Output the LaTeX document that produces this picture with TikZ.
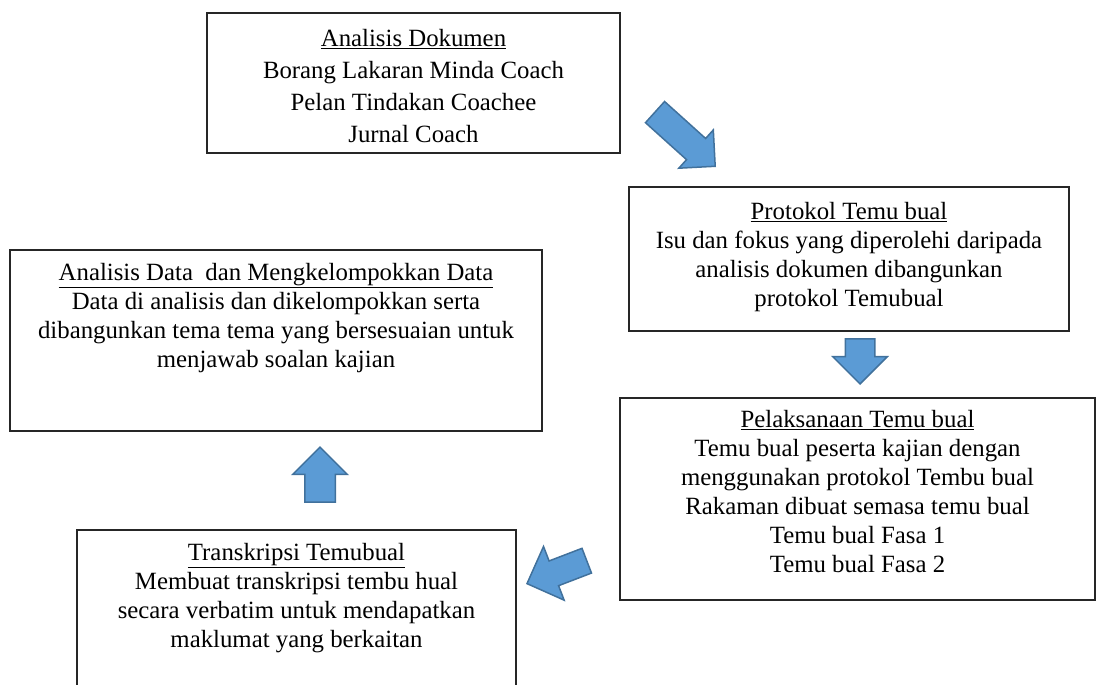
\documentclass[tikz,border=0pt]{standalone}
\usepackage{fontspec}
\setmainfont{Liberation Serif}
\usetikzlibrary{shapes.arrows}
\definecolor{ArrowFill}{HTML}{5B9BD5}
\definecolor{ArrowLine}{HTML}{41719C}

\begin{document}
\begin{tikzpicture}[x=1pt,y=-1pt,
  box/.style={draw=black!85,line width=1.3pt,rectangle,inner sep=0pt},
  txt/.style={align=center,inner sep=0pt,anchor=north,font=\fontsize{24.8}{29}\selectfont},
  blue arrow/.style={single arrow,draw=ArrowLine,fill=ArrowFill,line width=1.5pt,inner xsep=0pt,anchor=tip}]
\useasboundingbox (0,0) rectangle (1098,685);

% boxes
\node[box,minimum width=413,minimum height=140] (dok) at (413.5,83) {};
\node[box,minimum width=440,minimum height=144] (prot) at (849,259) {};
\node[box,minimum width=532,minimum height=181] (data) at (276,340.5) {};
\node[box,minimum width=475,minimum height=202] (laks) at (857.5,499) {};
\node[box,minimum width=439,minimum height=190] (trans) at (296.5,625) {};

% texts
\node[txt,font=\fontsize{24.8}{32}\selectfont] (dokT) at ([yshift=-17pt]dok.north)
  {\underline{Analisis Dokumen}\\Borang Lakaran Minda Coach\\Pelan Tindakan Coachee\\Jurnal Coach};
\node[txt] (protT) at ([yshift=-16pt]prot.north)
  {\underline{Protokol Temu bual}\\Isu dan fokus yang diperolehi daripada\\analisis dokumen dibangunkan\\protokol Temubual};
\node[txt] (dataT) at ([yshift=-14pt]data.north)
  {\underline{Analisis Data\ \ dan Mengkelompokkan Data}\\Data di analisis dan dikelompokkan serta\\dibangunkan tema tema yang bersesuaian untuk\\menjawab soalan kajian};
\node[txt] (laksT) at ([yshift=-13pt]laks.north)
  {\underline{Pelaksanaan Temu bual}\\Temu bual peserta kajian dengan\\menggunakan protokol Tembu bual\\Rakaman dibuat semasa temu bual\\Temu bual Fasa 1\\Temu bual Fasa 2};
\node[txt] (transT) at ([yshift=-14pt]trans.north)
  {\underline{Transkripsi Temubual}\\Membuat transkripsi tembu hual\\secara verbatim untuk mendapatkan\\maklumat yang berkaitan};

% block arrows
\node[blue arrow,minimum height=81,inner ysep=13.5,single arrow head extend=11.5,rotate=-42] (arrA) at (716,167) {};
\node[blue arrow,minimum height=45,inner ysep=14,single arrow head extend=12.5,rotate=-90] (arrB) at (860,385) {};
\node[blue arrow,minimum height=64,inner ysep=12.5,single arrow head extend=15.5,rotate=201] (arrC) at (526,584) {};
\node[blue arrow,minimum height=55,inner ysep=14.5,single arrow head extend=12,rotate=90] (arrD) at (320,446) {};
\end{tikzpicture}
\end{document}
